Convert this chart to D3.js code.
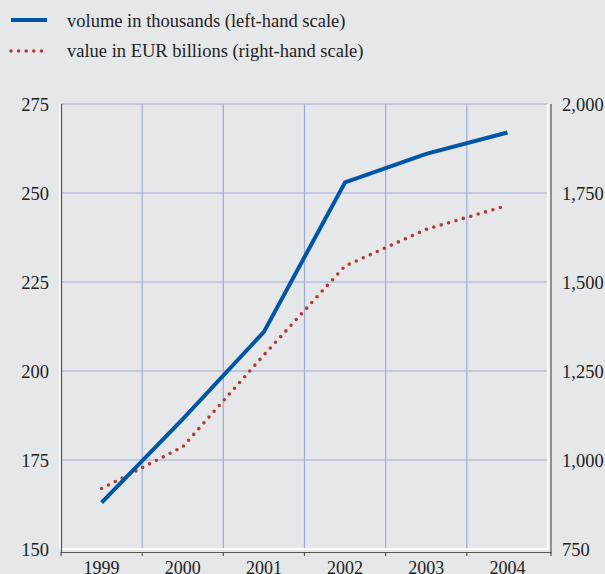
<!DOCTYPE html>
<html>
<head>
<meta charset="utf-8">
<script src="https://cdn.jsdelivr.net/npm/d3@7"></script>
<style>
  body { margin: 0; background: #e6e7e9; }
  text { font-family: "Liberation Serif", "Times New Roman", serif; fill: #222; }
</style>
</head>
<body>
<div id="chart"></div>
<script>
// data
var years = ["1999", "2000", "2001", "2002", "2003", "2004"];
var volume = [163, 186.5, 211, 253, 261, 267];          // thousands, left scale
var value = [920, 1037, 1295, 1545, 1648, 1715];        // EUR billions, right scale
var leftTicks = [150, 175, 200, 225, 250, 275];
var rightTicks = [750, 1000, 1250, 1500, 1750, 2000];
var legendLabels = ["volume in thousands (left-hand scale)", "value in EUR billions (right-hand scale)"];

var w = 605, h = 574;
var plotLeft = 61, plotRight = 548, plotTop = 104, plotBottom = 549;

var svg = d3.select("#chart").append("svg")
    .attr("width", w)
    .attr("height", h);

svg.append("rect").attr("width", w).attr("height", h).attr("fill", "#e6e7e9");

var x = d3.scaleBand().domain(years).range([plotLeft, plotRight]);
var yL = d3.scaleLinear().domain([150, 275]).range([plotBottom, plotTop]);
var yR = d3.scaleLinear().domain([750, 2000]).range([plotBottom, plotTop]);

var gridColor = "#9eabd8";

// horizontal grid
svg.append("g").selectAll("line")
    .data(leftTicks.slice(1))
    .enter().append("line")
    .attr("x1", plotLeft).attr("x2", plotRight)
    .attr("y1", function (d) { return yL(d); })
    .attr("y2", function (d) { return yL(d); })
    .attr("stroke", gridColor).attr("stroke-width", 1.2);

// vertical grid at year boundaries
svg.append("g").selectAll("line")
    .data(years.slice(1))
    .enter().append("line")
    .attr("x1", function (d) { return x(d); })
    .attr("x2", function (d) { return x(d); })
    .attr("y1", plotTop).attr("y2", plotBottom)
    .attr("stroke", gridColor).attr("stroke-width", 1.2);

// white frame lines (left, bottom, right)
svg.append("line").attr("x1", plotLeft - 1).attr("x2", plotLeft - 1).attr("y1", plotTop).attr("y2", plotBottom)
    .attr("stroke", "#fff").attr("stroke-width", 1.5);
svg.append("line").attr("x1", plotLeft).attr("x2", plotRight).attr("y1", plotBottom).attr("y2", plotBottom)
    .attr("stroke", "#fff").attr("stroke-width", 2);
svg.append("line").attr("x1", plotRight).attr("x2", plotRight).attr("y1", plotTop).attr("y2", plotBottom)
    .attr("stroke", "#fff").attr("stroke-width", 1.5);

// dark axis lines
var axisColor = "#555";
svg.append("line").attr("x1", plotLeft + 0.5).attr("x2", plotLeft + 0.5).attr("y1", plotTop).attr("y2", plotBottom + 4)
    .attr("stroke", axisColor).attr("stroke-width", 1.2);
svg.append("line").attr("x1", plotRight + 3).attr("x2", plotRight + 3).attr("y1", plotTop).attr("y2", plotBottom + 4)
    .attr("stroke", axisColor).attr("stroke-width", 1.2);
svg.append("line").attr("x1", plotLeft).attr("x2", plotRight + 3).attr("y1", plotBottom + 3.5).attr("y2", plotBottom + 3.5)
    .attr("stroke", axisColor).attr("stroke-width", 1.2);

// small ticks at year boundaries
var bounds = years.map(function (d) { return x(d); }).concat([plotRight + 3]);
svg.append("g").selectAll("line")
    .data(bounds)
    .enter().append("line")
    .attr("x1", function (d) { return d; })
    .attr("x2", function (d) { return d; })
    .attr("y1", plotBottom + 3).attr("y2", plotBottom + 7)
    .attr("stroke", axisColor).attr("stroke-width", 1.2);

// left tick labels
svg.append("g").selectAll("text")
    .data(leftTicks)
    .enter().append("text")
    .attr("x", 49)
    .attr("y", function (d) { return yL(d) + 6.5; })
    .attr("text-anchor", "end")
    .attr("font-size", "18.5px")
    .text(function (d) { return d; });

// right tick labels
var fmt = d3.format(",");
svg.append("g").selectAll("text")
    .data(rightTicks)
    .enter().append("text")
    .attr("x", 562)
    .attr("y", function (d) { return yR(d) + 6.5; })
    .attr("font-size", "18.5px")
    .text(function (d) { return fmt(d); });

// year labels
svg.append("g").selectAll("text")
    .data(years)
    .enter().append("text")
    .attr("x", function (d) { return x(d) + x.bandwidth() / 2; })
    .attr("y", 573.5)
    .attr("text-anchor", "middle")
    .attr("font-size", "18px")
    .text(function (d) { return d; });

var cx = function (d, i) { return x(years[i]) + x.bandwidth() / 2; };

// value line (dotted red)
svg.append("path")
    .datum(value)
    .attr("fill", "none")
    .attr("stroke", "#b23a36")
    .attr("stroke-width", 3.6)
    .attr("stroke-linecap", "round")
    .attr("stroke-dasharray", "0 7.7")
    .attr("d", d3.line().x(cx).y(function (d) { return yR(d); }));

// volume line (solid blue)
svg.append("path")
    .datum(volume)
    .attr("fill", "none")
    .attr("stroke", "#0056a6")
    .attr("stroke-width", 4)
    .attr("d", d3.line().x(cx).y(function (d) { return yL(d); }));

// legend
svg.append("line").attr("x1", 11).attr("x2", 47).attr("y1", 20).attr("y2", 20)
    .attr("stroke", "#0056a6").attr("stroke-width", 4);
svg.append("line").attr("x1", 11).attr("x2", 48).attr("y1", 51).attr("y2", 51)
    .attr("stroke", "#b23a36").attr("stroke-width", 3.6)
    .attr("stroke-linecap", "round").attr("stroke-dasharray", "0 7.6");
svg.append("g").selectAll("text")
    .data(legendLabels)
    .enter().append("text")
    .attr("x", 67)
    .attr("y", function (d, i) { return 26.5 + i * 30.5; })
    .attr("font-size", "18.5px")
    .text(function (d) { return d; });
</script>
</body>
</html>
